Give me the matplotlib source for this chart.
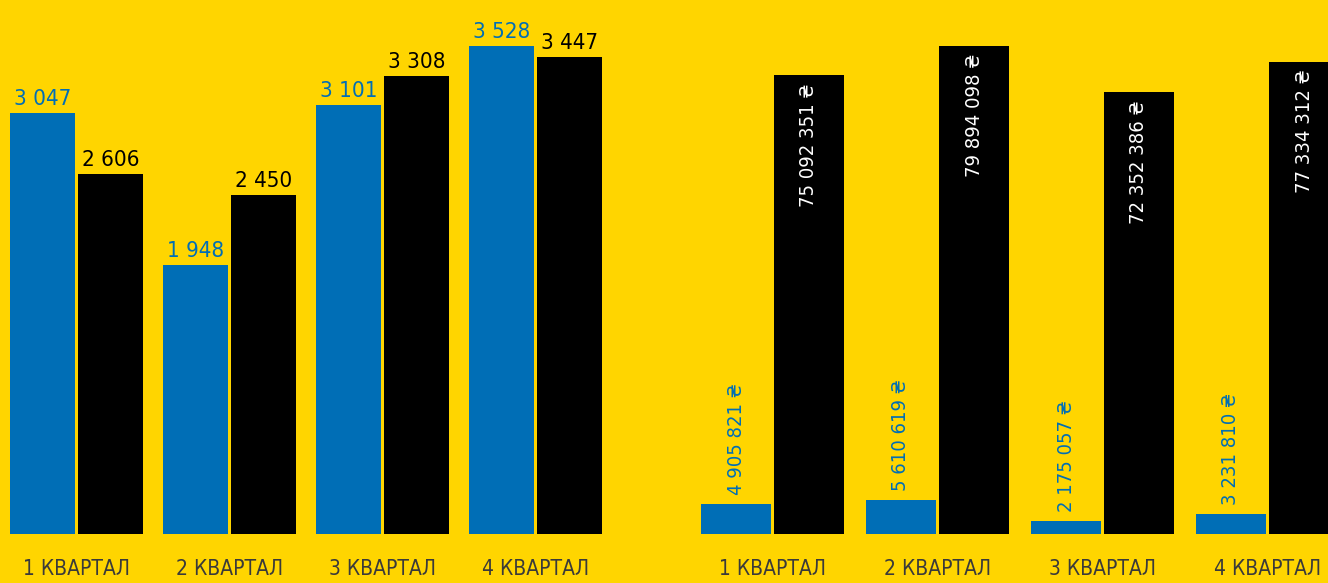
import matplotlib
matplotlib.use("Agg")
import matplotlib.pyplot as plt
import numpy as np

# quarterly data
quarters = ["1 КВАРТАЛ", "2 КВАРТАЛ", "3 КВАРТАЛ", "4 КВАРТАЛ"]
count_blue = [3047, 1948, 3101, 3528]
count_black = [2606, 2450, 3308, 3447]
sum_blue = [4905821, 5610619, 2175057, 3231810]
sum_black = [75092351, 79894098, 72352386, 77334312]

YELLOW = "#FFD500"
BLUE = "#006EB6"
BLACK = "#000000"
GREY = "#3a3a3a"

plt.rcParams['font.family'] = ['DejaVu Sans']
plt.rcParams['font.stretch'] = 'condensed'


def fmt(v):
    return f"{v:,}".replace(",", " ")


W, H = 1328, 583
fig = plt.figure(figsize=(W / 100, H / 100), dpi=100, facecolor=YELLOW)

bottom = (H - 534) / H
height = 534 / H
ax1 = fig.add_axes([0, bottom, 612 / W, height])
ax2 = fig.add_axes([690 / W, bottom, (W - 690) / W, height])

x = np.arange(len(quarters))

# left panel: counts
w1, off1 = 65 / 153, 34 / 153
b1 = ax1.bar(x - off1, count_blue, w1, color=BLUE)
b2 = ax1.bar(x + off1, count_black, w1, color=BLACK)
ax1.set_xlim(-0.5, 3.5)
ax1.set_ylim(0, max(count_blue) * 534 / 488)
for bars, vals, col in [(b1, count_blue, BLUE), (b2, count_black, BLACK)]:
    for r, v in zip(bars, vals):
        ax1.annotate(fmt(v), (r.get_x() + r.get_width() / 2, v),
                     xytext=(0, 4), textcoords="offset pixels",
                     ha="center", va="bottom", fontsize=16, color=col)

# right panel: sums in UAH
w2, off2 = 70 / 165, 36.5 / 165
c1 = ax2.bar(x - off2, sum_blue, w2, color=BLUE)
c2 = ax2.bar(x + off2, sum_black, w2, color=BLACK)
ax2.set_xlim(-0.5, -0.5 + (W - 690) / 165)
ax2.set_ylim(0, max(sum_black) * 534 / 488)
for r, v in zip(c1, sum_blue):
    ax2.annotate(fmt(v) + " ₴", (r.get_x() + r.get_width() / 2, v),
                 xytext=(0, 9), textcoords="offset pixels", rotation=90,
                 ha="center", va="bottom", fontsize=14.5, color=BLUE)
for r, v in zip(c2, sum_black):
    ax2.annotate(fmt(v) + " ₴", (r.get_x() + r.get_width() / 2, v),
                 xytext=(0, -8), textcoords="offset pixels", rotation=90,
                 ha="center", va="top", fontsize=14.5, color="white")

for ax in (ax1, ax2):
    ax.set_facecolor(YELLOW)
    for s in ax.spines.values():
        s.set_visible(False)
    ax.set_yticks([])
    ax.set_xticks(x)
    ax.set_xticklabels(quarters, fontsize=15, color=GREY)
    ax.tick_params(axis="x", length=0, pad=18)

fig.savefig("out.png", dpi=100, facecolor=YELLOW)
